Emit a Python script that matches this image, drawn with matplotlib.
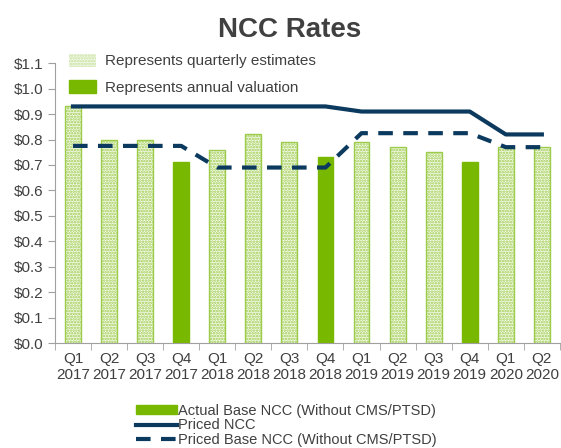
import numpy as np
import matplotlib.pyplot as plt
from matplotlib.patches import Patch
from matplotlib.lines import Line2D

plt.rcParams['font.family'] = ['Liberation Sans', 'DejaVu Sans']
plt.rcParams['hatch.linewidth'] = 1.2

quarters = ["Q1\n2017", "Q2\n2017", "Q3\n2017", "Q4\n2017",
            "Q1\n2018", "Q2\n2018", "Q3\n2018", "Q4\n2018",
            "Q1\n2019", "Q2\n2019", "Q3\n2019", "Q4\n2019",
            "Q1\n2020", "Q2\n2020"]
base_ncc = [0.93, 0.80, 0.80, 0.71, 0.76, 0.82, 0.79, 0.73,
            0.79, 0.77, 0.75, 0.71, 0.77, 0.77]
annual = [False, False, False, True, False, False, False, True,
          False, False, False, True, False, False]
priced_ncc = [0.93, 0.93, 0.93, 0.93, 0.93, 0.93, 0.93, 0.93,
              0.91, 0.91, 0.91, 0.91, 0.82, 0.82]
priced_base = [0.775, 0.775, 0.775, 0.775, 0.69, 0.69, 0.69, 0.69,
               0.825, 0.825, 0.825, 0.825, 0.77, 0.77]

green = '#78b800'
light_green = '#9ccc4a'
navy = '#0b3a5e'
grey = '#404040'

fig = plt.figure(figsize=(5.61, 4.48), dpi=100)
ax = fig.add_axes([0.098, 0.234, 0.9, 0.625])

x = np.arange(len(quarters))
for i in x:
    if annual[i]:
        ax.bar(i, base_ncc[i], width=0.44, color=green, edgecolor=green, zorder=2)
    else:
        ax.bar(i, base_ncc[i], width=0.44, facecolor='#f4f9ea', edgecolor=light_green,
               hatch='......', linewidth=1.0, zorder=2)

ax.plot(x, priced_ncc, color=navy, lw=3, zorder=3)
ax.plot(x, priced_base, color=navy, lw=3, ls=(0, (3.5, 2.5)), zorder=3)

ax.set_xlim(-0.5, len(quarters) - 0.5)
ax.set_ylim(0, 1.1)
ax.set_yticks(np.arange(0, 1.11, 0.1))
ax.set_yticklabels([f"${v:.1f}" for v in np.arange(0, 1.11, 0.1)])
ax.set_xticks(x)
ax.set_xticklabels(quarters)
ax.set_xticks(np.arange(-0.5, len(quarters), 1), minor=True)
ax.tick_params(axis='x', which='major', length=0, pad=6)
ax.tick_params(axis='x', which='minor', length=5, color='#a0a0a0')
ax.tick_params(axis='y', length=5, color='#a0a0a0')
ax.tick_params(labelsize=11, labelcolor=grey)
for s in ['top', 'right']:
    ax.spines[s].set_visible(False)
for s in ['left', 'bottom']:
    ax.spines[s].set_color('#a0a0a0')

fig.text(0.517, 0.932, "NCC Rates", ha='center', va='center',
         fontsize=20, fontweight='bold', color=grey)

top_handles = [Patch(facecolor='#f4f9ea', edgecolor='#c5e09a', hatch='......', lw=0),
               Patch(facecolor=green, edgecolor=green)]
ax.legend(top_handles, ["Represents quarterly estimates", "Represents annual valuation"],
          loc='upper left', bbox_to_anchor=(0.015, 1.055), frameon=False,
          fontsize=11, labelcolor=grey, handlelength=1.8, handleheight=0.9,
          labelspacing=0.75, handletextpad=0.55, borderaxespad=0)

bot_handles = [Patch(facecolor=green, edgecolor=green),
               Line2D([], [], color=navy, lw=3),
               Line2D([], [], color=navy, lw=3, ls=(0, (3.5, 2.5)))]
fig.legend(bot_handles, ["Actual Base NCC (Without CMS/PTSD)", "Priced NCC",
                         "Priced Base NCC (Without CMS/PTSD)"],
           loc='upper left', bbox_to_anchor=(0.232, 0.112), frameon=False,
           fontsize=10.5, labelcolor=grey, handlelength=2.8, handleheight=0.6,
           labelspacing=0.05, handletextpad=0.1, borderaxespad=0)

fig.savefig('out.png', dpi=100)
